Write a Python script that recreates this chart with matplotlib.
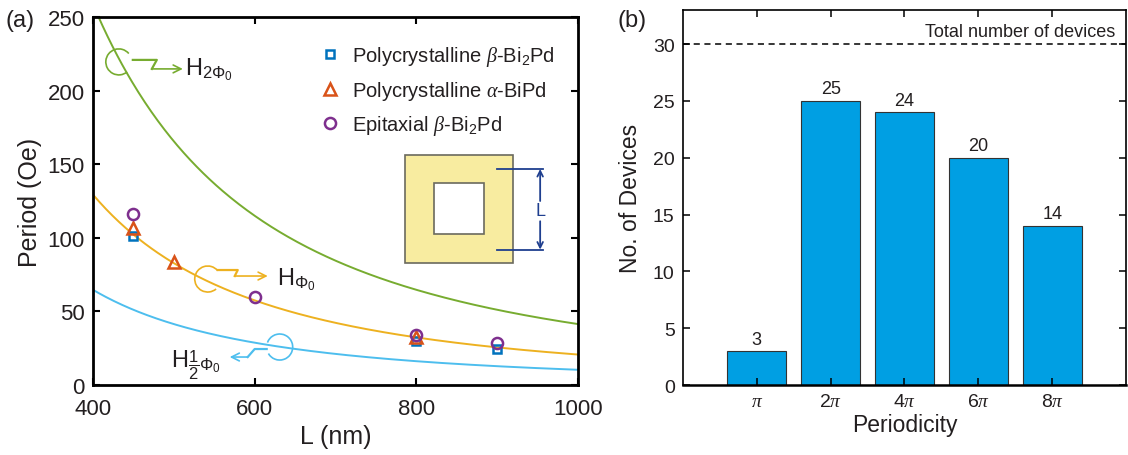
import numpy as np
import matplotlib
matplotlib.use("Agg")
import matplotlib.pyplot as plt
from matplotlib.patches import Arc, Rectangle
from matplotlib.transforms import ScaledTranslation

plt.rcParams['font.family'] = ['Liberation Sans', 'DejaVu Sans']
plt.rcParams['mathtext.fontset'] = 'custom'
plt.rcParams['mathtext.rm'] = 'Liberation Sans'
plt.rcParams['mathtext.sf'] = 'Liberation Sans'
plt.rcParams['mathtext.it'] = 'Liberation Serif:italic'
plt.rcParams['mathtext.bf'] = 'Liberation Sans:bold'

TXT = '#231f20'

# ---- panel (a) data ----
phi0 = 2.07e-7          # flux quantum, G cm^2
L_curve = np.linspace(400, 1000, 300)   # nm
poly_bi2pd_L = [450, 800, 900]
poly_bi2pd_H = [101.5, 29.7, 24.5]
poly_bipd_L = [450, 500, 800]
poly_bipd_H = [106.5, 83.4, 32.4]
epi_bi2pd_L = [450, 600, 800, 900]
epi_bi2pd_H = [116.3, 60.0, 34.2, 28.3]

# ---- panel (b) data ----
period_labels = [r'$\pi$', r'$2\pi$', r'$4\pi$', r'$6\pi$', r'$8\pi$']
device_counts = [3, 25, 24, 20, 14]
total_devices = 30

fig = plt.figure(figsize=(11.28, 4.56), dpi=100)
ax1 = fig.add_axes([0.0824, 0.1535, 0.430, 0.807])
ax2 = fig.add_axes([0.6055, 0.1535, 0.3927, 0.8224])

# theory curves: H = n * phi0 / L^2
H_one = phi0 / (L_curve * 1e-7) ** 2
ax1.plot(L_curve, 2 * H_one, color='#77ac30', lw=1.4)
ax1.plot(L_curve, H_one, color='#edb120', lw=1.4)
ax1.plot(L_curve, 0.5 * H_one, color='#4dbeee', lw=1.4)

ax1.plot(poly_bi2pd_L, poly_bi2pd_H, 's', ms=6, mfc='none', mec='#0072bd', mew=1.8,
         label=r'Polycrystalline $\beta$-Bi$_2$Pd', zorder=5)
ax1.plot(poly_bipd_L, poly_bipd_H, '^', ms=9, mfc='none', mec='#d95319', mew=1.8,
         label=r'Polycrystalline $\alpha$-BiPd', zorder=5)
ax1.plot(epi_bi2pd_L, epi_bi2pd_H, 'o', ms=8, mfc='none', mec='#7e2f8e', mew=1.8,
         label=r'Epitaxial $\beta$-Bi$_2$Pd', zorder=5)

ax1.set_xlim(400, 1000)
ax1.set_ylim(0, 250)
ax1.set_xticks([400, 600, 800, 1000])
ax1.set_yticks([0, 50, 100, 150, 200, 250])
ax1.tick_params(direction='in', top=True, right=True, length=5, width=1.5,
                labelsize=16, labelcolor=TXT, pad=6)
ax1.tick_params(axis='x', pad=9)
for s in ax1.spines.values():
    s.set_linewidth(2)
ax1.set_xlabel('L (nm)', fontsize=18, color=TXT, labelpad=4)
ax1.set_ylabel('Period (Oe)', fontsize=18, color=TXT, labelpad=4)

leg = ax1.legend(loc='upper left', bbox_to_anchor=(0.43, 0.975), frameon=False,
                 fontsize=14.5, handlelength=1.0, handletextpad=0.6, labelspacing=0.55)
for t in leg.get_texts():
    t.set_color(TXT)


def loop_icon(ax, xd, yd, color, arc_span, pts, label, lab_xy, ha):
    # shapes in pixels (1/100 inch) relative to an anchor point in data coords
    base = fig.dpi_scale_trans + ScaledTranslation(xd, yd, ax.transData)
    ax.add_patch(Arc((0, 0), 0.26, 0.26, theta1=arc_span[0], theta2=arc_span[1],
                     transform=base, color=color, lw=1.2, clip_on=False))
    xs = [p[0] / 100 for p in pts]
    ys = [p[1] / 100 for p in pts]
    ax.plot(xs[:-1], ys[:-1], color=color, lw=1.6, transform=base, clip_on=False)
    ax.annotate('', xy=(xs[-1], ys[-1]), xytext=(xs[-2], ys[-2]),
                xycoords=base, textcoords=base,
                arrowprops=dict(arrowstyle='->', color=color, lw=1.2,
                                mutation_scale=14, shrinkA=0, shrinkB=0))
    ax.text(lab_xy[0] / 100, lab_xy[1] / 100, label, transform=base, fontsize=17,
            color=TXT, ha=ha, va='baseline')


loop_icon(ax1, 432, 219.5, '#77ac30', (40, 310),
          [(14, 2), (38, 2), (33, -7), (64, -7)],
          r'H$_{2\Phi_0}$', (66, -12), 'left')
loop_icon(ax1, 542, 72, '#edb120', (40, 310),
          [(10, 9), (30, 9), (27, 3), (60, 3)],
          r'H$_{\Phi_0}$', (69, -5), 'left')
loop_icon(ax1, 631, 25.8, '#4dbeee', (-150, 160),
          [(-13, -2), (-25, -2), (-32, -10), (-50, -10)],
          r'H$_{\dfrac{1}{2}\Phi_0}$', (-109, -19), 'left')

# inset: square ring with size marker
ax1.add_patch(Rectangle((0.643, 0.3315), 0.224, 0.2945, transform=ax1.transAxes,
                        facecolor='#f8eca0', edgecolor='#6b6a5e', lw=1.2))
ax1.add_patch(Rectangle((0.703, 0.410), 0.104, 0.139, transform=ax1.transAxes,
                        facecolor='white', edgecolor='#6b6a5e', lw=1.2))
navy = '#1f3f8f'
ax1.plot([0.832, 0.928], [0.587, 0.587], color=navy, lw=1.3, transform=ax1.transAxes)
ax1.plot([0.832, 0.928], [0.368, 0.368], color=navy, lw=1.3, transform=ax1.transAxes)
ax1.annotate('', xy=(0.922, 0.587), xytext=(0.922, 0.50), xycoords='axes fraction',
             arrowprops=dict(arrowstyle='->', color=navy, lw=1.3, shrinkA=0, shrinkB=0))
ax1.annotate('', xy=(0.922, 0.368), xytext=(0.922, 0.445), xycoords='axes fraction',
             arrowprops=dict(arrowstyle='->', color=navy, lw=1.3, shrinkA=0, shrinkB=0))
ax1.text(0.922, 0.473, 'L', transform=ax1.transAxes, fontsize=13, color=navy,
         ha='center', va='center')

# ---- panel (b) ----
xpos = np.arange(1, len(device_counts) + 1)
bars = ax2.bar(xpos, device_counts, width=0.8, color='#009fe3', edgecolor='#333333',
               lw=0.8)
for x, v in zip(xpos, device_counts):
    ax2.text(x, v + 0.3, str(v), ha='center', va='bottom', fontsize=13, color=TXT)
ax2.axhline(total_devices, color='black', ls=(0, (4, 3)), lw=1.1)
ax2.text(0.975, total_devices + 0.4, 'Total number of devices',
         transform=ax2.get_yaxis_transform(), ha='right', va='bottom',
         fontsize=13, color=TXT)
ax2.set_xlim(0, 6)
ax2.set_ylim(0, 33)
ax2.set_xticks(xpos)
ax2.set_xticklabels(period_labels)
ax2.set_yticks([0, 5, 10, 15, 20, 25, 30])
ax2.tick_params(direction='in', top=True, right=True, length=5, width=1.1,
                labelsize=14, labelcolor=TXT, pad=6)
for s in ax2.spines.values():
    s.set_linewidth(1.2)
ax2.spines['bottom'].set_linewidth(1.8)
ax2.set_xlabel('Periodicity', fontsize=16.5, color=TXT, labelpad=2)
ax2.set_ylabel('No. of Devices', fontsize=16.5, color=TXT, labelpad=8)

fig.text(0.005, 0.955, '(a)', fontsize=17, color=TXT, va='center')
fig.text(0.547, 0.955, '(b)', fontsize=17, color=TXT, va='center')

fig.savefig('out.png', dpi=100)
